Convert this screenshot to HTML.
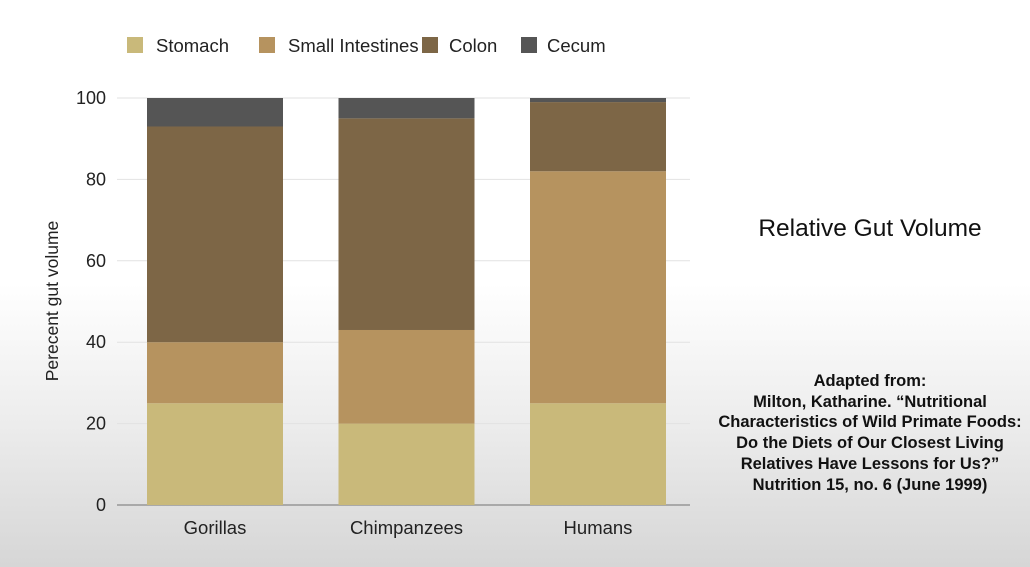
<!DOCTYPE html>
<html><head><meta charset="utf-8"><style>
html,body{margin:0;padding:0}
body{width:1030px;height:567px;overflow:hidden;font-family:"Liberation Sans",sans-serif;
background:linear-gradient(to bottom,#fff 0%,#fff 50%,#ececec 75%,#d6d6d6 100%);position:relative}
</style></head><body>
<svg width="1030" height="567" style="position:absolute;left:0;top:0">
<g id="legend"></g>
<g id="grid"></g>
<g id="bars"></g>
<g id="labels"></g>
<text x="58" y="301" transform="rotate(-90 58 301)" text-anchor="middle" font-size="17.5" fill="#222">Perecent gut volume</text>
<text x="870" y="236" text-anchor="middle" font-size="24.5" fill="#111">Relative Gut Volume</text>
<g font-size="16.5" font-weight="bold" fill="#111" text-anchor="middle">
<text x="870" y="386">Adapted from:</text>
<text x="870" y="407">Milton, Katharine. “Nutritional</text>
<text x="870" y="427">Characteristics of Wild Primate Foods:</text>
<text x="870" y="448">Do the Diets of Our Closest Living</text>
<text x="870" y="469">Relatives Have Lessons for Us?”</text>
<text x="870" y="490">Nutrition 15, no. 6 (June 1999)</text>
</g>
</svg>
<script>
const categories=["Gorillas","Chimpanzees","Humans"];
const seriesNames=["Stomach","Small Intestines","Colon","Cecum"];
const stomach=[25,20,25];
const smallIntestines=[15,23,57];
const colon=[53,52,17];
const cecum=[7,5,1];
const yTicks=[0,20,40,60,80,100];
const colors=["#c9b97a","#b6935f","#7d6646","#555555"];
const NS="http://www.w3.org/2000/svg";
const y0=505,y1=98,xL=117,xR=690;
const y=v=>y0-(v/100)*(y0-y1);
const barW=136,step=191.5,firstX=147;
const x=i=>firstX+i*step;
function mk(t,a,p){const e=document.createElementNS(NS,t);for(const k in a)e.setAttribute(k,a[k]);p.appendChild(e);return e;}
const grid=document.getElementById('grid');
yTicks.forEach(v=>{
  const l=mk('line',{x1:xL,x2:xR,y1:y(v),y2:y(v),stroke:v===0?'#888':'#e2e2e2','stroke-width':v===0?1.2:1},grid);
  
  
  const t=mk('text',{x:106,y:y(v)+6,'text-anchor':'end','font-size':18,fill:'#222'},grid);
  t.textContent=v;
  
  
});
const bars=document.getElementById('bars');
const series=[stomach,smallIntestines,colon,cecum];
categories.forEach((c,i)=>{
  let acc=0;
  series.forEach((s,j)=>{
    const v=s[i];
    const r=mk('rect',{x:x(i),width:barW,y:y(acc+v),height:y(acc)-y(acc+v),fill:colors[j]},bars);
    
    
    acc+=v;
  });
  const t=mk('text',{x:x(i)+barW/2,y:534,'text-anchor':'middle','font-size':18.5,fill:'#222'},document.getElementById('labels'));
  t.textContent=c;
  
  
});
const lg=document.getElementById('legend');
const lx=[127,259,422,521];
const tx=[156,288,449,547];
seriesNames.forEach((n,j)=>{
  const r=mk('rect',{x:lx[j],y:37,width:16,height:16,fill:colors[j]},lg);
  
  
  const t=mk('text',{x:tx[j],y:52,'font-size':18.5,fill:'#222'},lg);
  t.textContent=n;
  
  
});
</script>
</body></html>
